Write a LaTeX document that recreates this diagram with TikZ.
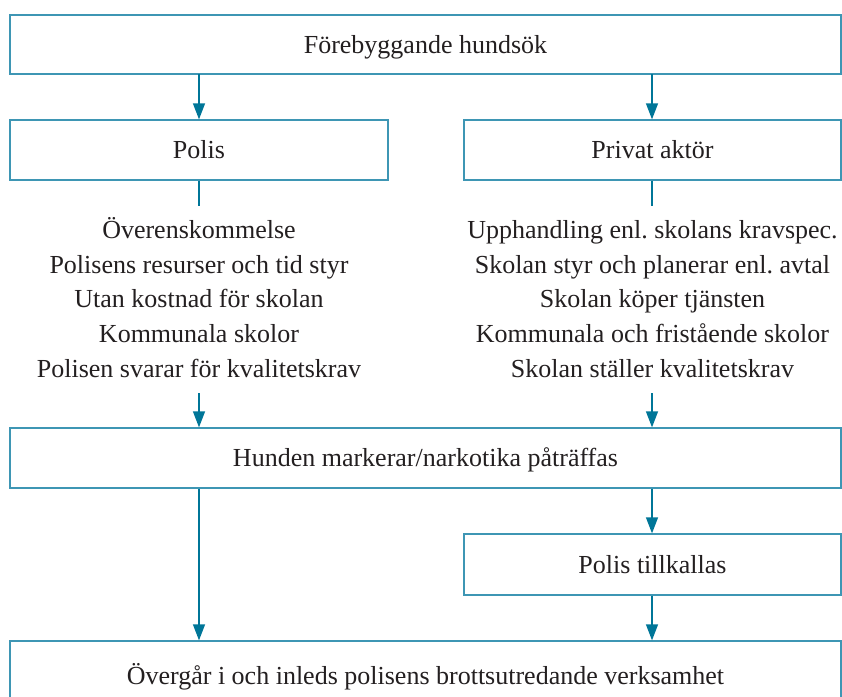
\documentclass[tikz,border=0pt]{standalone}
\usepackage{fontspec}
\setmainfont{Liberation Serif}
\usetikzlibrary{arrows.meta}
\frenchspacing
\definecolor{boxcol}{RGB}{62,150,180}
\definecolor{arrcol}{RGB}{0,118,152}
\definecolor{txtcol}{RGB}{35,31,32}
\tikzset{
  flowbox/.style={draw=boxcol, line width=1.3pt, inner sep=0pt, text=txtcol,
    font=\fontsize{26}{34.6}\selectfont, text height=17pt, text depth=0pt},
  bodyline/.style={anchor=base, inner sep=0pt, text=txtcol,
    font=\fontsize{26}{34.6}\selectfont},
  flowarrow/.style={draw=arrcol, line width=1.3pt, -{Triangle[length=16pt,width=12pt]}},
  flowline/.style={draw=arrcol, line width=1.3pt}
}
\begin{document}
\begin{tikzpicture}[x=1pt,y=-1pt]
\useasboundingbox (0,0) rectangle (842,696);
% boxes
\node[flowbox, minimum width=831pt, minimum height=59pt] (top) at (425.5,44.5) {Förebyggande hundsök};
\node[flowbox, minimum width=378pt, minimum height=60pt] (polis) at (199,150) {Polis};
\node[flowbox, minimum width=377pt, minimum height=60pt] (privat) at (652.5,150) {Privat aktör};
\node[flowbox, minimum width=831pt, minimum height=60pt] (hund) at (425.5,458) {Hunden markerar/narkotika påträffas};
\node[flowbox, minimum width=377pt, minimum height=61pt] (till) at (652.5,564.5) {Polis tillkallas};
\node[flowbox, minimum width=831pt, minimum height=69pt] (over) at (425.5,675.5) {Övergår i och inleds polisens brottsutredande verksamhet};
% left text
\node[bodyline] (l1) at (199,238) {Överenskommelse};
\node[bodyline] (l2) at (199,273) {Polisens resurser och tid styr};
\node[bodyline] (l3) at (199,307.5) {Utan kostnad för skolan};
\node[bodyline] (l4) at (199,342) {Kommunala skolor};
\node[bodyline] (l5) at (199,377) {Polisen svarar för kvalitetskrav};
% right text
\node[bodyline] (r1) at (652.5,238) {Upphandling enl. skolans kravspec.};
\node[bodyline] (r2) at (652.5,273) {Skolan styr och planerar enl. avtal};
\node[bodyline] (r3) at (652.5,307.5) {Skolan köper tjänsten};
\node[bodyline] (r4) at (652.5,342) {Kommunala och fristående skolor};
\node[bodyline] (r5) at (652.5,377) {Skolan ställer kvalitetskrav};
% coordinates
\coordinate (lend) at (199,206);
\coordinate (rend) at (652,206);
\coordinate (lstart) at (199,393);
\coordinate (rstart) at (652,393);
% connectors
\draw[flowarrow] (199,74) -- (polis.north);
\draw[flowarrow] (652,74) -- (privat.north -| 652,0);
\draw[flowline] (polis.south) -- (lend);
\draw[flowline] (privat.south -| rend) -- (rend);
\draw[flowarrow] (lstart) -- (lstart |- hund.north);
\draw[flowarrow] (rstart) -- (rstart |- hund.north);
\draw[flowarrow] (hund.south -| 199,0) -- (over.north -| 199,0);
\draw[flowarrow] (hund.south -| 652,0) -- (till.north -| 652,0);
\draw[flowarrow] (till.south -| 652,0) -- (over.north -| 652,0);
\end{tikzpicture}
\end{document}
